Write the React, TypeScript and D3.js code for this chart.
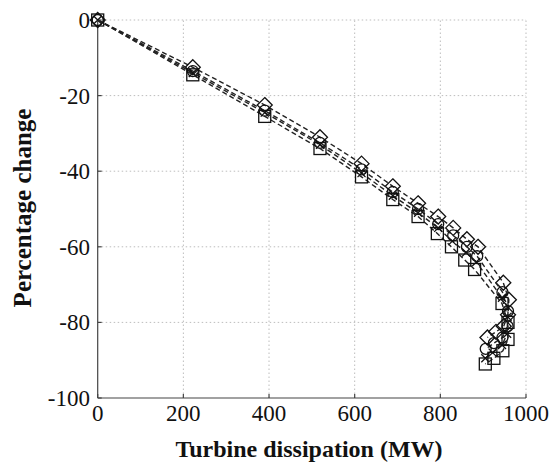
import React from "react";
import * as d3 from "d3";

const xTicks = [0, 200, 400, 600, 800, 1000];
const yTicks = [0, -20, -40, -60, -80, -100];

const diamondX = [0, 222, 390, 519, 616, 689, 748, 795, 830, 862, 888, 947, 960, 958, 948, 930, 910];
const diamondY = [0, -12.5, -22.5, -31, -38, -44, -48.5, -52, -55, -58, -60, -69.5, -74, -78, -81, -82.5, -84];
const circleX = [0, 222, 390, 519, 616, 689, 748, 795, 830, 862, 886, 945, 958, 957, 945, 925, 906];
const circleY = [0, -13.5, -24, -32.5, -39.5, -45.5, -50, -54, -57, -60, -62.5, -72, -77, -81, -84, -85.5, -87];
const crossX = [0, 222, 390, 519, 616, 689, 748, 795, 828, 860, 884, 944, 957, 956, 944, 922, 905];
const crossY = [0, -14, -24.5, -33, -40.5, -46.5, -51, -55, -58.5, -61.5, -64, -73.5, -78.5, -83, -86, -88, -89.5];
const squareX = [0, 222, 390, 519, 616, 689, 748, 793, 826, 857, 880, 944, 958, 958, 946, 925, 905];
const squareY = [0, -14.5, -25.5, -34, -41.5, -47.5, -52, -56.5, -60, -63.5, -66, -75, -80, -84.5, -87.5, -89.5, -91];

const series = [
  { xs: diamondX, ys: diamondY, marker: "diamond" },
  { xs: circleX, ys: circleY, marker: "circle" },
  { xs: crossX, ys: crossY, marker: "cross" },
  { xs: squareX, ys: squareY, marker: "square" },
];

const FONT = "'Liberation Serif', 'Times New Roman', serif";

export default function App() {
  const x = d3.scaleLinear().domain([0, 1000]).range([97.7, 526]);
  const y = d3.scaleLinear().domain([-100, 0]).range([398, 20]);
  const line = d3
    .line<[number, number]>()
    .x((d) => x(d[0]))
    .y((d) => y(d[1]));

  const marker = (kind: string, cx: number, cy: number, key: string) => {
    const common = { fill: "none", stroke: "#111", strokeWidth: 1.3 };
    if (kind === "diamond") {
      const r = 7.5;
      return (
        <path key={key} d={`M${cx},${cy - r}L${cx + r},${cy}L${cx},${cy + r}L${cx - r},${cy}Z`} {...common} />
      );
    }
    if (kind === "square") {
      const r = 6;
      return <rect key={key} x={cx - r} y={cy - r} width={2 * r} height={2 * r} {...common} />;
    }
    if (kind === "circle") {
      return <circle key={key} cx={cx} cy={cy} r={5.5} {...common} />;
    }
    const r = 4;
    return (
      <path key={key} d={`M${cx - r},${cy - r}L${cx + r},${cy + r}M${cx - r},${cy + r}L${cx + r},${cy - r}`} {...common} />
    );
  };

  const [x0, x1] = x.range();
  const [y0, y1] = y.range();

  return (
    <svg
      width={551}
      height={464}
      style={{ position: "absolute", left: 0, top: 0, background: "#fff" }}
      fontFamily={FONT}
    >
      {/* grid */}
      {xTicks.filter((t) => t !== 0).map((t) => (
        <line key={"gx" + t} x1={x(t)} x2={x(t)} y1={y0} y2={y1} stroke="#bdbdbd" strokeWidth={1} strokeDasharray="1.5,2.5" />
      ))}
      {yTicks.filter((t) => t !== -100).map((t) => (
        <line key={"gy" + t} x1={x0} x2={x1} y1={y(t)} y2={y(t)} stroke="#bdbdbd" strokeWidth={1} strokeDasharray="1.5,2.5" />
      ))}
      {/* axes */}
      <line x1={x0} x2={x0} y1={y0} y2={y1} stroke="#444" strokeWidth={1.2} />
      <line x1={x0} x2={x1} y1={y0} y2={y0} stroke="#444" strokeWidth={1.2} />
      {xTicks.map((t) => (
        <g key={"tx" + t}>
          <line x1={x(t)} x2={x(t)} y1={y0} y2={y0 - 4} stroke="#444" strokeWidth={1.2} />
          <text x={x(t)} y={421} textAnchor="middle" fontSize={23} fill="#111">
            {t}
          </text>
        </g>
      ))}
      {yTicks.map((t) => (
        <g key={"ty" + t}>
          <line x1={x0} x2={x0 + 4} y1={y(t)} y2={y(t)} stroke="#444" strokeWidth={1.2} />
          <text x={90} y={y(t)} dy="0.35em" textAnchor="end" fontSize={23} fill="#111">
            {t}
          </text>
        </g>
      ))}
      {/* series */}
      {series.map((s, i) => {
        const pts = s.xs.map((v, j) => [v, s.ys[j]] as [number, number]);
        return (
          <g key={"s" + i}>
            <path d={line(pts) || ""} fill="none" stroke="#222" strokeWidth={1.4} strokeDasharray="5,3" />
            {pts.map((p, j) => marker(s.marker, x(p[0]), y(p[1]), `m${i}-${j}`))}
          </g>
        );
      })}
      {/* labels */}
      <text x={309} y={457} textAnchor="middle" fontSize={24} fontWeight="bold" fill="#111">
        Turbine dissipation (MW)
      </text>
      <text
        transform={`translate(31,${208}) rotate(-90)`}
        textAnchor="middle"
        fontSize={25}
        fontWeight="bold"
        fill="#111"
      >
        Percentage change
      </text>
    </svg>
  );
}
